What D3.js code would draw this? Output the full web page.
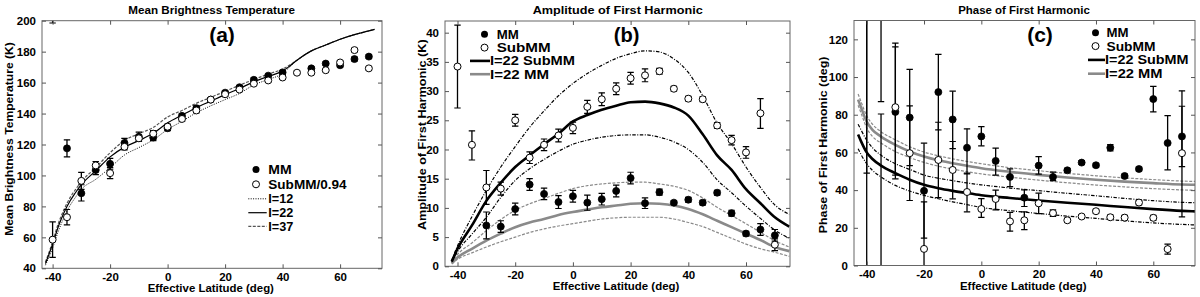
<!DOCTYPE html>
<html><head><meta charset="utf-8">
<script src="https://cdn.jsdelivr.net/npm/d3@7"></script>
<style>
html,body{margin:0;padding:0;background:#fff;}
svg{display:block;}
text{font-family:"Liberation Sans",Arial,Helvetica,sans-serif;font-weight:bold;fill:#000;}
</style></head><body>
<svg id="chart" width="1200" height="297"></svg>
<script>
// ---------------- DATA ----------------
const xTicks = [-40, -20, 0, 20, 40, 60];
const aYTicks = [40, 60, 80, 100, 120, 140, 160, 180, 200];
const bYTicks = [0, 5, 10, 15, 20, 25, 30, 35, 40];
const cYTicks = [0, 20, 40, 60, 80, 100, 120];

// Panel (a) Mean Brightness Temperature
const aMM_lat = [-40, -35, -30, -25, -20, -15, -10, -5, 0, 5, 10, 15, 20, 25, 30, 35, 40, 50, 55, 60, 65, 70];
const aMM_val = [210, 117.5, 88.5, 103.5, 107.5, 121, 125, 124.5, 130.5, 138.5, 143.5, 149, 153.5, 157, 161.8, 164.5, 166.6, 169.2, 172.3, 171.2, 175.2, 176.8];
const aMM_lo  = [198.5, 112, 83.5, 100.5, 104, 118, 122, 122.5, 129, 137, 142, 148, 152.5, 156, 160.6, 163.5, 165.6, 168.2, 171.3, 170.2, 174, 175.6];
const aMM_hi  = [222, 123, 94, 106.5, 111, 124, 128, 126.5, 132, 140, 145, 150, 154.5, 158, 163, 165.5, 167.6, 170.2, 173.3, 172.2, 176.4, 178];
const aSub_lat = [-40, -35, -30, -25, -20, -15, -10, -5, 0, 5, 10, 15, 20, 25, 30, 35, 40, 45, 50, 55, 60, 65, 70];
const aSub_val = [58.5, 73, 96.5, 106.5, 101.5, 118.5, 124, 127, 131.5, 136.5, 142, 149, 152.5, 155.5, 159.3, 161.4, 163.3, 166.4, 166.4, 168, 173, 181, 169.2];
const aSub_lo  = [47, 68, 91, 104, 98, 116.5, 122, 125, 129.8, 135, 140.5, 147.8, 151, 154.5, 158.3, 160.4, 162.3, 165.4, 165.4, 167, 172, 179.8, 168.2];
const aSub_hi  = [70, 78, 102, 109, 105, 120.5, 126, 129, 133.2, 138, 143.5, 150.2, 154, 156.5, 160.3, 162.4, 164.3, 167.4, 167.4, 169, 174, 182.2, 170.2];
const aCurve_lat = [-42.5, -40, -38, -36, -35, -32, -30, -25, -20, -15, -10, -5, 0, 5, 10, 15, 20, 25, 30, 35, 40, 42, 45, 50, 55, 60, 65, 70, 72];
const aI12 = [42, 53, 64, 73, 77, 86, 91, 97.5, 105, 113.2, 118, 123, 129.7, 135, 140.5, 145, 149, 153, 158.5, 162, 166, 169.3, 174.5, 180.5, 184.3, 188, 191, 193.4, 194.4];
const aI22 = [43, 55.5, 67, 76, 80, 89, 94, 103, 112, 118.3, 122.5, 127.2, 134, 139, 143.8, 148, 152.2, 156.2, 160.5, 164, 167.5, 170, 174.5, 180.5, 184.3, 188, 191, 193.4, 194.4];
const aI37 = [44, 57, 69, 78, 82, 91, 96, 105, 114.7, 122.6, 127, 131, 137.8, 142, 146.6, 150.5, 154.3, 158.3, 162, 165.5, 168.8, 170.8, 174.5, 180.5, 184.3, 188, 191, 193.4, 194.4];

// Panel (b) Amplitude of First Harmonic
const bSub_lat = [-40, -35, -30, -25, -20, -15, -10, -5, 0, 5, 10, 15, 20, 25, 30, 35, 40, 45, 50, 55, 60, 65, 70];
const bSub_val = [34.2, 20.8, 13.5, 13.3, 25, 18.6, 20.8, 22.4, 23.7, 27.3, 28.6, 30.4, 32.2, 32.7, 33.4, 30.4, 28.7, 28.6, 24.1, 21.6, 19.5, 26.2, 3.7];
const bSub_lo  = [27.1, 18.2, 10.6, 12.2, 24, 17.6, 19.8, 21.3, 22.7, 26.2, 27.5, 29.4, 31.2, 31.6, 32.9, 30, 28.3, 28.2, 23.6, 20.8, 18.5, 23.6, 2.7];
const bSub_hi  = [41.3, 23.2, 16.4, 14.4, 26, 19.6, 21.8, 23.5, 24.7, 28.4, 29.7, 31.4, 33.2, 33.8, 33.9, 30.8, 29.1, 29, 24.6, 22.4, 20.5, 28.7, 4.7];
const bMM_lat = [-30, -25, -20, -15, -10, -5, 0, 5, 10, 15, 20, 25, 30, 35, 40, 45, 50, 55, 60, 65, 70];
const bMM_val = [7.0, 6.8, 9.8, 14, 12.4, 11, 12, 10.9, 11.5, 12.9, 15.1, 10.8, 12.7, 10.9, 11.4, 10.9, 12.6, 9.1, 5.6, 6.3, 5.3];
const bMM_lo  = [4.7, 5.8, 8.8, 13, 11.4, 9.9, 11, 9.6, 10.5, 11.9, 14.1, 9.9, 12.2, 10.6, 11, 10.5, 12.2, 8.6, 5.2, 5.3, 4.3];
const bMM_hi  = [9.3, 7.8, 10.8, 15, 13.4, 12.1, 13, 12.2, 12.5, 13.9, 16.1, 11.7, 13.2, 11.2, 11.8, 11.3, 13, 9.6, 6, 7.3, 6.3];
const bCurve_lat = [-42, -40, -35, -30, -25, -20, -15, -10, -5, 0, 5, 10, 15, 20, 25, 30, 35, 40, 45, 50, 55, 60, 65, 70, 75];
const bSubMid = [0.8, 3, 7, 11.2, 14.3, 17, 19, 20.9, 22.7, 24.8, 25.9, 26.8, 27.5, 28.1, 28.2, 27.9, 27.2, 25.8, 22.6, 19, 16.5, 13.2, 10.8, 8.4, 6.8];
const bSubHi  = [1, 3.5, 8.5, 13, 17, 20.5, 23.8, 26.6, 29.2, 31.3, 33, 34.4, 35.6, 36.4, 36.9, 36.7, 35.5, 33.2, 29.2, 24.5, 21, 17, 13.5, 10.5, 8.9];
const bSubLo  = [0.7, 2.5, 5.5, 8.4, 11.8, 14.7, 16.7, 18.3, 19.7, 20.9, 21.6, 22.1, 22.4, 22.5, 22.5, 22.1, 21.3, 20, 17.8, 14.8, 12.6, 10.3, 8.2, 6.2, 4.8];
const bMMMid  = [0.5, 1.5, 3, 4.4, 5.6, 6.7, 7.5, 8.1, 8.8, 9.3, 9.7, 10.1, 10.4, 10.7, 10.8, 10.7, 10.4, 9.8, 8.9, 7.8, 6.7, 5.6, 4.5, 3.3, 2.6];
const bMMHi   = [0.6, 2, 4, 6.1, 8, 9.6, 10.7, 11.6, 12.5, 13.3, 13.8, 14.1, 14.3, 14.4, 14.4, 14.1, 13.7, 13, 11.7, 10.1, 8.7, 7.3, 5.8, 4.4, 3.3];
const bMMLo   = [0.4, 1.2, 2.3, 3.3, 4.2, 5, 5.8, 6.4, 6.9, 7.3, 7.7, 8.1, 8.3, 8.4, 8.4, 8.4, 8.1, 7.5, 6.8, 5.8, 4.8, 3.8, 3, 2.4, 1.7];

// Panel (c) Phase of First Harmonic
const cMM_lat = [-40, -35, -30, -25, -20, -15, -10, -5, 0, 5, 10, 15, 20, 25, 30, 35, 40, 45, 50, 55, 60, 65, 70];
const cMM_val = [200, 200, 81.5, 78.5, 39.6, 92, 77.5, 62.5, 68.5, 55.5, 47, 36, 53, 47, 50.5, 54.6, 53.2, 62.5, 47.5, 51.2, 88.3, 65, 68.5];
const cMM_lo  = [-50, 87, 46, 53, 14.5, 72, 62, 48.6, 63.5, 48, 41.9, 31.3, 48.5, 45, 49.5, 53.6, 52.2, 60.8, 46.5, 50.2, 81.5, 50.7, 52.5];
const cMM_hi  = [300, 300, 116, 104.1, 64.9, 112, 92.5, 72.5, 73.7, 62.3, 51.3, 40.1, 57.8, 49.5, 51.5, 55.6, 54.2, 64.2, 48.5, 52.2, 95, 79.5, 84.5];
const cSub_lat = [-40, -35, -30, -25, -20, -15, -10, -5, 0, 5, 10, 15, 20, 25, 30, 35, 40, 45, 50, 55, 60, 65, 70];
const cSub_val = [150, -50, 84, 59.6, 8.8, 56, 50.7, 39, 30, 35.3, 23.4, 24, 33, 27.8, 24, 26, 28.8, 25.6, 25.4, 33.4, 25.3, 8.7, 59.6];
const cSub_lo  = [49, -100, 48, 34.5, -20, 36, 35.4, 28.5, 25.5, 29.5, 18.2, 19, 27.5, 26, 23, 25, 27.8, 24.4, 24.2, 32.2, 24, 6, 25.8];
const cSub_hi  = [250, 80.4, 118, 84.7, 33.8, 76, 65.8, 49, 35.5, 40, 28.2, 28.5, 38.4, 29.5, 25, 27, 29.8, 26.8, 26.6, 34.6, 26.6, 11.3, 92.7];
const cCurve_lat = [-43, -42, -40, -38, -35, -30, -25, -20, -15, -10, -5, 0, 10, 20, 30, 40, 50, 60, 70, 75];
const cMMMid = [88, 84, 76.3, 72, 68.4, 64, 60.5, 57.8, 55.8, 54.3, 52.9, 51.6, 49.7, 48.1, 46.7, 45.5, 44.5, 43.7, 43, 42.8];
const cMMHi  = [91, 87, 79.5, 75, 71, 66.7, 63, 60.2, 58.2, 56.6, 55.2, 54, 51.9, 50.3, 48.9, 47.6, 46.5, 45.6, 44.8, 44.6];
const cMMLo  = [85, 81, 73, 68.5, 65, 60.5, 57.3, 54.7, 52.7, 51.2, 49.8, 48.6, 46.9, 45.3, 43.9, 42.7, 41.7, 40.8, 40.1, 39.9];
const cSubMid = [69.5, 66, 60, 56.5, 53, 49, 45.5, 42.8, 41, 39.6, 38.4, 37.3, 35.8, 34.5, 33.3, 32.2, 31, 29.9, 29, 28.7];
const cSubHi  = [75, 72, 66.5, 62.5, 58.5, 54, 51, 48, 46.3, 45, 43.8, 42.8, 41.1, 39.7, 38.3, 37, 35.6, 34.4, 33.5, 33.3];
const cSubLo  = [62, 59, 54, 50.5, 47, 42.5, 39.5, 37.2, 35.4, 33.8, 32.3, 30.8, 29.1, 27.6, 26.2, 25, 23.7, 22.6, 21.8, 21.5];

// ---------------- STYLES / LAYOUT ----------------
const BLACK = "#000", GRAY = "#8a8a8a", DGRAY = "#555";
const st = {
  dotted: {color: BLACK, w: 1, dash: "1,1.4"},
  solid:  {color: BLACK, w: 1.2, dash: null},
  dash37: {color: DGRAY, w: 1.2, dash: "3,1.5"},
  thickB: {color: BLACK, w: 2.6, dash: null},
  thinB:  {color: BLACK, w: 1.2, dash: "3.5,1.5,1,1.5"},
  thickG: {color: GRAY, w: 2.6, dash: null},
  thinG:  {color: GRAY, w: 1.2, dash: "3,1.5"}
};

const panels = [
  { id: "a", l: 42, r: 382, t: 20.7, b: 268.3, xr: [52.6, 340.1], yd: [40, 200], yTicks: aYTicks,
    title: "Mean Brightness Temperature", titleX: 211.7, titleLen: 166.7,
    xlab: "Effective Latitude (deg)", xlabX: 210.8, xlabY: 292.3, xlabLen: 126.3,
    ylab: "Mean Brightness Temperature (K)", ylabX: 12.8, ylabY: 139, ylabLen: 193.7,
    tag: "(a)", tagX: 222,
    curves: [[aCurve_lat, aI12, st.dotted], [aCurve_lat, aI37, st.dash37], [aCurve_lat, aI22, st.solid]],
    mm: [aMM_lat, aMM_val, aMM_lo, aMM_hi], sub: [aSub_lat, aSub_val, aSub_lo, aSub_hi],
    legend: { mx: 256, tx: 268.3, lx: [248.3, 266.7], items: [
      {type: "fill", label: "MM", y: 169.5, len: 23.3},
      {type: "open", label: "SubMM/0.94", y: 184.3, len: 78.3},
      {type: "line", s: st.dotted, label: "I=12", y: 198.8, len: 25},
      {type: "line", s: st.solid, label: "I=22", y: 212.7, len: 25},
      {type: "line", s: st.dash37, label: "I=37", y: 226.4, len: 25}
    ]}
  },
  { id: "b", l: 445, r: 790, t: 21, b: 266.3, xr: [457.5, 746], yd: [0, 42], yTicks: bYTicks,
    title: "Amplitude of First Harmonic", titleX: 617.7, titleLen: 170,
    xlab: "Effective Latitude (deg)", xlabX: 616, xlabY: 290, xlabLen: 126.7,
    ylab: "Amplitude of First Harmonic (K)", ylabX: 425.5, ylabY: 134.7, ylabLen: 190.7,
    tag: "(b)", tagX: 626.7,
    curves: [[bCurve_lat, bMMHi, st.thinG], [bCurve_lat, bMMLo, st.thinG], [bCurve_lat, bSubHi, st.thinB], [bCurve_lat, bSubLo, st.thinB],
             [bCurve_lat, bMMMid, st.thickG], [bCurve_lat, bSubMid, st.thickB]],
    mm: [bMM_lat, bMM_val, bMM_lo, bMM_hi], sub: [bSub_lat, bSub_val, bSub_lo, bSub_hi],
    legend: { mx: 484.5, tx: 496.7, lx: [470, 490], items: [
      {type: "fill", label: "MM", y: 34.3, len: 22},
      {type: "open", label: "SubMM", y: 47.6, len: 54},
      {type: "line", s: st.thickB, label: "I=22 SubMM", y: 60.9, len: 85, tx: 490},
      {type: "line", s: st.thickG, label: "I=22 MM", y: 74.2, len: 59, tx: 490}
    ]}
  },
  { id: "c", l: 854, r: 1195, t: 20.5, b: 265.5, xr: [866.7, 1153.3], yd: [0, 130], yTicks: cYTicks,
    title: "Phase of First Harmonic", titleX: 1024, titleLen: 131.7,
    xlab: "Effective Latitude (deg)", xlabX: 1023.3, xlabY: 290, xlabLen: 126.7,
    ylab: "Phase of First Harmonic (deg)", ylabX: 826.5, ylabY: 145, ylabLen: 176.7,
    tag: "(c)", tagX: 1040,
    curves: [[cCurve_lat, cMMHi, st.thinG], [cCurve_lat, cMMLo, st.thinG], [cCurve_lat, cSubHi, st.thinB], [cCurve_lat, cSubLo, st.thinB],
             [cCurve_lat, cMMMid, st.thickG], [cCurve_lat, cSubMid, st.thickB]],
    mm: [cMM_lat, cMM_val, cMM_lo, cMM_hi], sub: [cSub_lat, cSub_val, cSub_lo, cSub_hi],
    legend: { mx: 1095.5, tx: 1106.5, lx: [1088, 1105], items: [
      {type: "fill", label: "MM", y: 32.8, len: 22},
      {type: "open", label: "SubMM", y: 46.1, len: 49},
      {type: "line", s: st.thickB, label: "I=22 SubMM", y: 59.9, len: 83.5, tx: 1105},
      {type: "line", s: st.thickG, label: "I=22 MM", y: 73.7, len: 57.5, tx: 1105}
    ]}
  }
];

// ---------------- DRAW ----------------
const svg = d3.select("#chart");
const R = 3.5, CAP = 3.2;

function styleAxis(g, size) {
  g.select(".domain").remove();
  g.selectAll(".tick line").attr("stroke", DGRAY).attr("stroke-width", 1);
  g.selectAll("text").attr("font-size", size).attr("fill", "#000");
  g.attr("font-family", null).attr("font-size", null);
}

panels.forEach(p => {
  const x = d3.scaleLinear().domain([-40, 60]).range(p.xr);
  const y = d3.scaleLinear().domain(p.yd).range([p.b, p.t]);
  const g = svg.append("g");

  svg.append("clipPath").attr("id", "clip" + p.id)
    .append("rect").attr("x", p.l).attr("y", p.t).attr("width", p.r - p.l).attr("height", p.b - p.t);
  const plot = g.append("g").attr("clip-path", `url(#clip${p.id})`);

  // model curves
  p.curves.forEach(([lat, val, s]) => {
    const line = d3.line().x((d, i) => x(lat[i])).y(d => y(d)).curve(d3.curveMonotoneX);
    plot.append("path").attr("d", line(val)).attr("fill", "none")
      .attr("stroke", s.color).attr("stroke-width", s.w)
      .attr("stroke-dasharray", s.dash).attr("stroke-linejoin", "round");
  });

  // error bars
  const drawErr = ([lat, val, lo, hi]) => {
    lat.forEach((la, i) => {
      const cx = x(la);
      plot.append("line").attr("x1", cx).attr("x2", cx).attr("y1", y(lo[i])).attr("y2", y(hi[i]))
        .attr("stroke", BLACK).attr("stroke-width", 1.3);
      [lo[i], hi[i]].forEach(v => {
        plot.append("line").attr("x1", cx - CAP).attr("x2", cx + CAP).attr("y1", y(v)).attr("y2", y(v))
          .attr("stroke", BLACK).attr("stroke-width", 1.2);
      });
    });
  };
  drawErr(p.mm); drawErr(p.sub);

  // markers
  const [mlat, mval] = p.mm;
  plot.selectAll(null).data(mval).enter().append("circle")
    .attr("cx", (d, i) => x(mlat[i])).attr("cy", d => y(d)).attr("r", R)
    .attr("fill", BLACK).attr("stroke", BLACK).attr("stroke-width", 0.8);
  const [slat, sval] = p.sub;
  plot.selectAll(null).data(sval).enter().append("circle")
    .attr("cx", (d, i) => x(slat[i])).attr("cy", d => y(d)).attr("r", R)
    .attr("fill", "#fff").attr("stroke", BLACK).attr("stroke-width", 1);

  // frame
  g.append("rect").attr("x", p.l).attr("y", p.t).attr("width", p.r - p.l).attr("height", p.b - p.t)
    .attr("fill", "none").attr("stroke", "#666").attr("stroke-width", 1);

  // axes (ticks inside)
  const gb = g.append("g").attr("transform", `translate(0,${p.b})`)
    .call(d3.axisBottom(x).tickValues(xTicks).tickSize(-4).tickPadding(4.6).tickFormat(d3.format("d")));
  styleAxis(gb, 11.5);
  gb.selectAll("text").text(d => d < 0 ? "-" + Math.abs(d) : d);
  const gt = g.append("g").attr("transform", `translate(0,${p.t})`)
    .call(d3.axisTop(x).tickValues(xTicks).tickSize(-4).tickFormat(""));
  styleAxis(gt, 11.5);
  const gl = g.append("g").attr("transform", `translate(${p.l},0)`)
    .call(d3.axisLeft(y).tickValues(p.yTicks).tickSize(-4).tickPadding(6).tickFormat(d3.format("d")));
  styleAxis(gl, 11.5);
  const gr = g.append("g").attr("transform", `translate(${p.r},0)`)
    .call(d3.axisRight(y).tickValues(p.yTicks).tickSize(-4).tickFormat(""));
  styleAxis(gr, 11.5);

  // texts
  g.append("text").attr("x", p.titleX).attr("y", 14.3).attr("text-anchor", "middle")
    .attr("font-size", 10).attr("textLength", p.titleLen).attr("lengthAdjust", "spacingAndGlyphs").text(p.title);
  g.append("text").attr("x", p.xlabX).attr("y", p.xlabY).attr("text-anchor", "middle")
    .attr("font-size", 11.6).attr("textLength", p.xlabLen).attr("lengthAdjust", "spacingAndGlyphs").text(p.xlab);
  g.append("text").attr("transform", `translate(${p.ylabX},${p.ylabY}) rotate(-90)`).attr("text-anchor", "middle")
    .attr("font-size", 11.8).attr("textLength", p.ylabLen).attr("lengthAdjust", "spacingAndGlyphs").text(p.ylab);
  g.append("text").attr("x", p.tagX).attr("y", 42).attr("text-anchor", "middle")
    .attr("font-size", 20).attr("textLength", 25.7).attr("lengthAdjust", "spacingAndGlyphs").text(p.tag);

  // legend
  const L = p.legend;
  L.items.forEach(it => {
    if (it.type === "fill") {
      g.append("circle").attr("cx", L.mx).attr("cy", it.y).attr("r", R).attr("fill", BLACK);
    } else if (it.type === "open") {
      g.append("circle").attr("cx", L.mx).attr("cy", it.y).attr("r", R).attr("fill", "#fff").attr("stroke", BLACK).attr("stroke-width", 1);
    } else {
      g.append("line").attr("x1", L.lx[0]).attr("x2", L.lx[1]).attr("y1", it.y).attr("y2", it.y)
        .attr("stroke", it.s.color).attr("stroke-width", it.s.w).attr("stroke-dasharray", it.s.dash);
    }
    g.append("text").attr("x", it.tx || L.tx).attr("y", it.y + 4.4).attr("font-size", 12.5)
      .attr("textLength", it.len).attr("lengthAdjust", "spacingAndGlyphs").text(it.label);
  });
});
</script>
</body></html>
